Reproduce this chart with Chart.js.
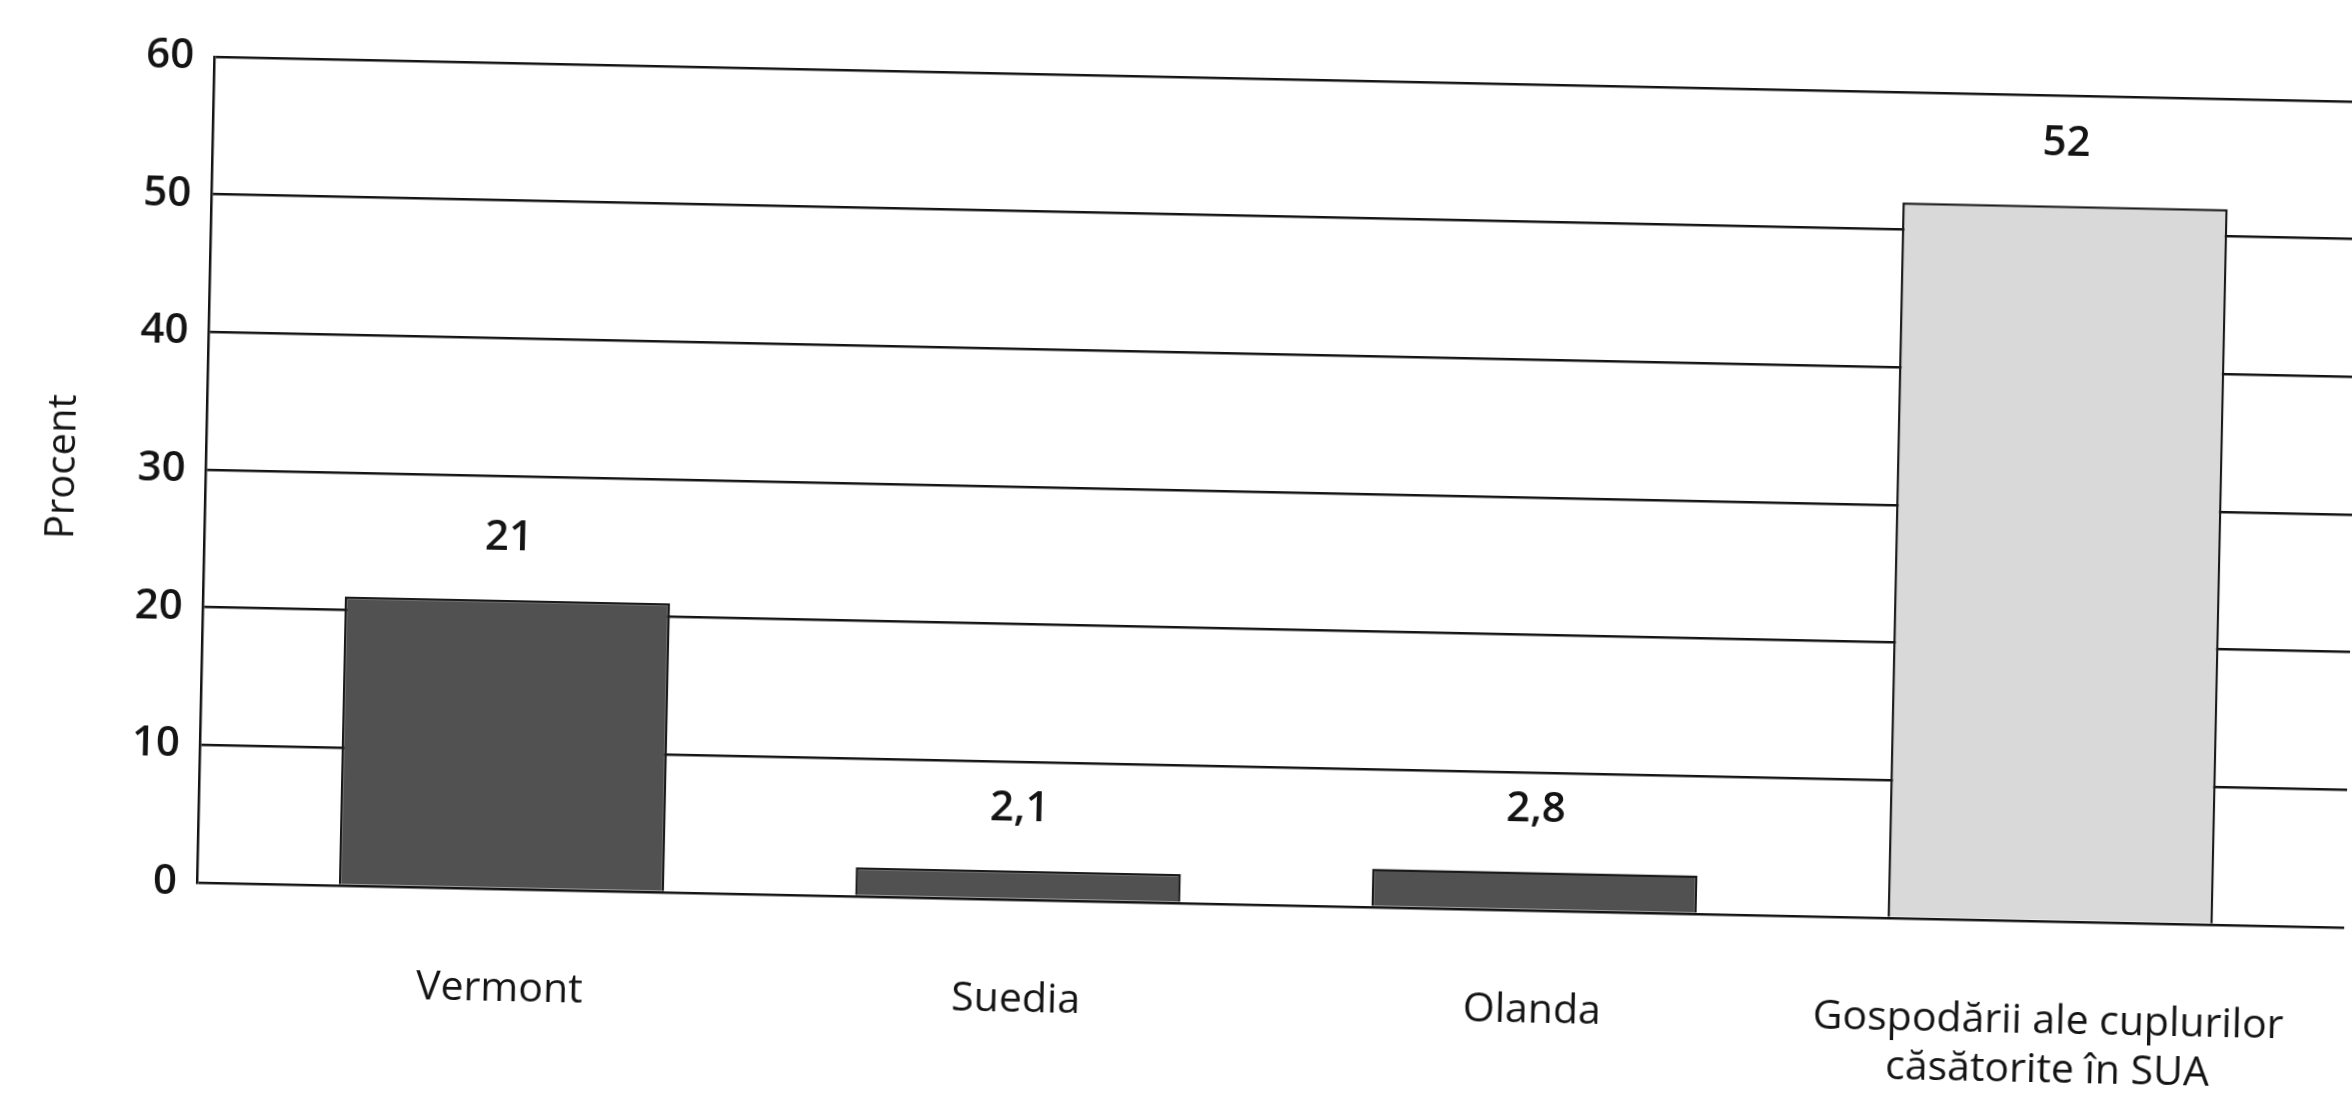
<!DOCTYPE html>
<html>
<head>
<meta charset="utf-8">
<script src="https://cdn.jsdelivr.net/npm/chart.js@4.4.1/dist/chart.umd.min.js"></script>
<style>
  html, body { margin: 0; padding: 0; background: #fff; overflow: hidden; }
  #chart { display: block; transform: rotate(1.2deg); transform-origin: 50% 50%; }
</style>
</head>
<body>
<canvas id="chart" width="2352" height="1109"></canvas>
<script>
// data
const categories = ['Vermont', 'Suedia', 'Olanda', ['Gospodării ale cuplurilor', 'căsătorite în SUA']]
const values = [21, 2.1, 2.8, 52]
const barColors = ['#515151', '#515151', '#515151', '#d9d9d9']
const yMin = 0
const yMax = 60
const yStep = 10

const family = '"Open Sans", "Noto Sans", sans-serif'
const ink = '#141414'

// bars sit on a linear x scale so the plot can run on to the right edge
const points = values.map((v, i) => ({ x: i, y: v }))

const valueLabels = {
  id: 'valueLabels',
  afterDatasetsDraw(chart) {
    const ctx = chart.ctx
    const meta = chart.getDatasetMeta(0)
    ctx.save()
    ctx.font = `600 42px ${family}`
    ctx.fillStyle = ink
    ctx.textAlign = 'center'
    ctx.textBaseline = 'middle'
    meta.data.forEach((bar, i) => {
      ctx.fillText(String(values[i]).replace('.', ','), bar.x, bar.y - 62)
    })
    ctx.restore()
  }
}

const ctx = document.getElementById('chart')

new Chart(ctx, {
  type: 'bar',
  data: {
    datasets: [{
      data: points,
      backgroundColor: barColors,
      borderColor: '#1a1a1a',
      borderWidth: 2.5,
      barPercentage: 0.63,
      categoryPercentage: 1
    }]
  },
  options: {
    responsive: false,
    animation: false,
    devicePixelRatio: 1,
    layout: { padding: { top: 77, right: 0, left: 0, bottom: 0 } },
    plugins: {
      legend: { display: false },
      tooltip: { enabled: false }
    },
    scales: {
      x: {
        type: 'linear',
        offset: false,
        min: -0.59,
        max: 3.57,
        grid: { display: false, offset: false },
        border: { display: false },
        ticks: {
          stepSize: 1,
          includeBounds: false,
          autoSkip: false,
          maxRotation: 0,
          padding: 68,
          color: ink,
          font: { family: family, size: 41 },
          callback: v => Number.isInteger(v) && categories[v] ? categories[v] : ''
        },
        afterFit: scale => {
          scale.height = 206
          scale.paddingLeft = 0
          scale.paddingRight = 0
        }
      },
      y: {
        min: yMin,
        max: yMax,
        ticks: { stepSize: yStep, padding: 20, color: ink, font: { family: family, size: 42, weight: 600 } },
        grid: { color: ink, lineWidth: 2.5, drawTicks: false },
        border: { color: ink, width: 2.5 },
        title: {
          display: true,
          text: 'Procent',
          color: ink,
          font: { family: family, size: 40, weight: 500 },
          padding: { top: 38, bottom: 0 }
        },
        afterFit: scale => { scale.width = 204 }
      }
    }
  },
  plugins: [valueLabels]
})
</script>
</body>
</html>
